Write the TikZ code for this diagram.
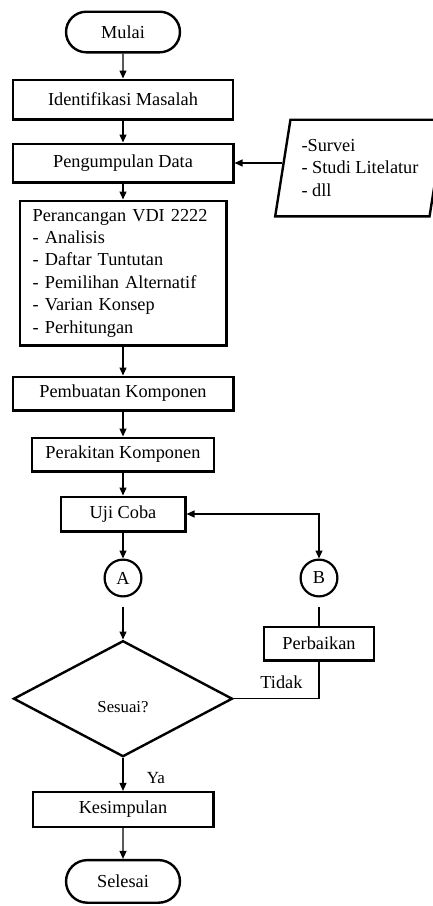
\documentclass[tikz,border=0pt]{standalone}
\usepackage{fontspec}
\setmainfont{Liberation Serif}
\usetikzlibrary{shapes,arrows,arrows.meta,positioning}
\tikzstyle{block} = [rectangle, draw, line width=2.4pt, minimum height=33.6pt, inner sep=2pt]
\tikzstyle{term} = [rounded rectangle, draw, line width=2.4pt, minimum width=120.6pt, minimum height=40.6pt]
\tikzstyle{conn} = [circle, draw, line width=2.2pt, minimum size=36.8pt, inner sep=0pt]
\tikzstyle{decision} = [diamond, draw, line width=2.4pt, minimum width=219pt,
    minimum height=116pt, inner sep=0pt]
\tikzstyle{io} = [trapezium, trapezium left angle=78, trapezium right angle=102,
    trapezium stretches=true, draw, line width=2.4pt, minimum width=170pt,
    minimum height=96.6pt, align=left]
\tikzstyle{line} = [draw, line width=1.1pt, ->]
\tikzstyle{link} = [draw, line width=1.1pt]

\begin{document}
\begin{tikzpicture}[x=1pt, y=1pt, >={Triangle[length=8pt,width=7pt]},
    font=\fontsize{18.3}{22.4}\selectfont]
    \useasboundingbox (0,0) rectangle (433,-906);
    \clip (0,0) rectangle (433,-906);
    % Place nodes
    \node [term] (mulai) at (123,-32) {Mulai};
    \node [block, minimum width=219.6pt, minimum height=39.6pt, below=25pt of mulai] (identifikasi) {Identifikasi Masalah};
    \node [block, minimum width=220.6pt, minimum height=38.6pt, below=22pt of identifikasi] (pengumpulan) {Pengumpulan Data};
    \node [io] (survei) at (360,-168) {-Survei\\- Studi Litelatur\\- dll};
    \node [block, text width=180.6pt, inner xsep=13pt, minimum height=144.6pt, align=left,
        below=16pt of pengumpulan] (perancangan) {Perancangan VDI 2222\\- Analisis\\- Daftar Tuntutan\\- Pemilihan Alternatif\\- Varian Konsep\\- Perhitungan};
    \node [block, minimum width=220.6pt, below=29pt of perancangan] (pembuatan) {Pembuatan Komponen};
    \node [block, minimum width=181.6pt, below=25pt of pembuatan] (perakitan) {Perakitan Komponen};
    \node [block, minimum width=124.6pt, minimum height=34.6pt, below=23pt of perakitan] (uji) {Uji Coba};
    \node [conn, below=26pt of uji] (A) {A};
    \node [conn, right=157pt of A] (B) {B};
    \node [block, minimum width=109.6pt, below=28pt of B] (perbaikan) {Perbaikan};
    \node [decision, below=42pt of A, font=\fontsize{16.7}{20}\selectfont,
        text height=28pt, text depth=0pt] (sesuai) {Sesuai?};
    \node [block, minimum width=180.6pt, minimum height=34.6pt, below=33pt of sesuai] (kesimpulan) {Kesimpulan};
    \node [term, minimum height=42.6pt, below=31pt of kesimpulan] (selesai) {Selesai};
    % Draw edges
    \path [line] (mulai) -- (identifikasi);
    \path [line] (identifikasi) -- (pengumpulan);
    \path [line] (survei.west |- pengumpulan) -- (pengumpulan);
    \path [line] (pengumpulan) -- (perancangan);
    \path [line] (perancangan) -- (pembuatan);
    \path [line] (pembuatan) -- (perakitan);
    \path [line] (perakitan) -- (uji);
    \path [line] (uji) -- (A);
    \path [line, <->] (uji) -| (B);
    \path [line, shorten <=9pt] (A) -- (sesuai);
    \path [link, shorten <=9pt] (B) -- (perbaikan);
    \path [link] (perbaikan) |- (sesuai) node [pos=0.72, above=6pt] (tidak) {Tidak};
    \path [line] (sesuai) -- node [pos=0.6, right=20pt, font=\fontsize{17}{20}\selectfont] (ya) {Ya} (kesimpulan);
    \path [line] (kesimpulan) -- (selesai);
\end{tikzpicture}
\end{document}
